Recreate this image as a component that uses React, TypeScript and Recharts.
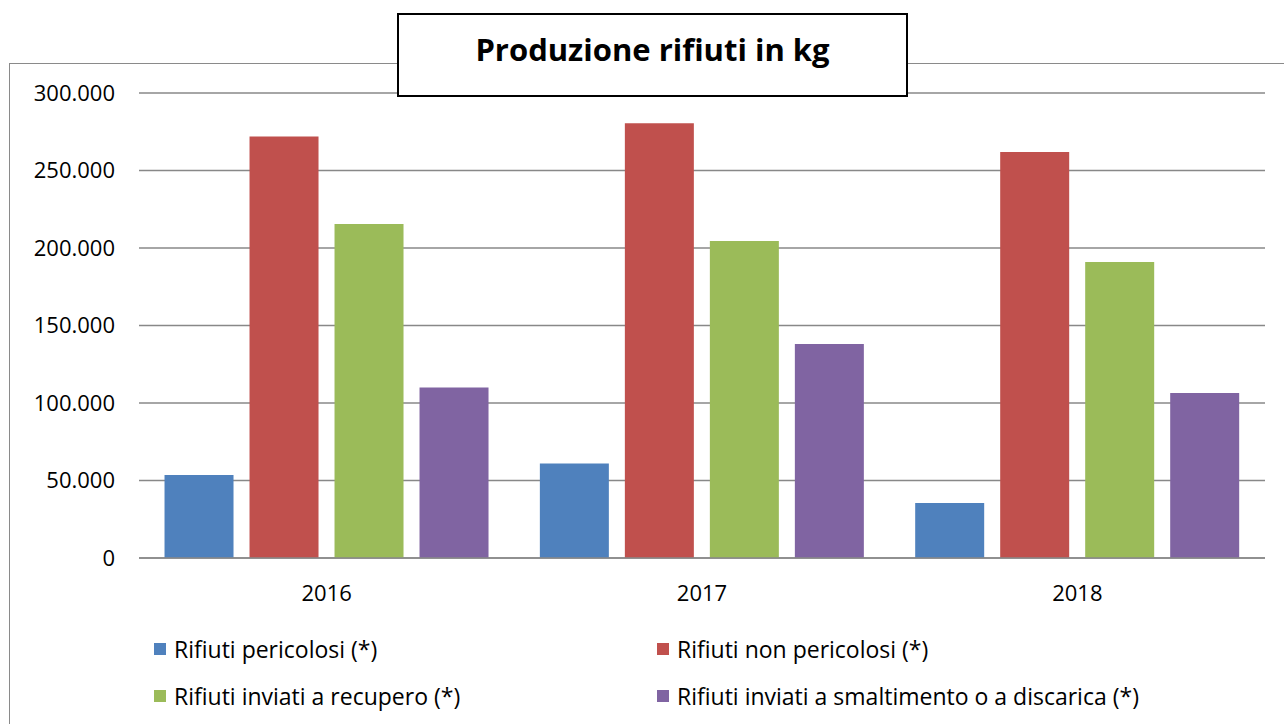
import React from "react";
import { BarChart, Bar, XAxis, YAxis, CartesianGrid } from "recharts";

const years = ["2016", "2017", "2018"];
const pericolosi = [53500, 61000, 35500];
const nonPericolosi = [272000, 280500, 262000];
const recupero = [215500, 204500, 191000];
const smaltimento = [110000, 138000, 106500];
const yTicks = [0, 50000, 100000, 150000, 200000, 250000, 300000];

const series = [
  { key: "pericolosi", name: "Rifiuti pericolosi (*)", color: "#4F81BD" },
  { key: "nonPericolosi", name: "Rifiuti non pericolosi (*)", color: "#C0504D" },
  { key: "recupero", name: "Rifiuti inviati a recupero (*)", color: "#9BBB59" },
  { key: "smaltimento", name: "Rifiuti inviati a smaltimento o a discarica (*)", color: "#8064A2" },
];

const data = years.map((year, i) => ({
  year,
  pericolosi: pericolosi[i],
  nonPericolosi: nonPericolosi[i],
  recupero: recupero[i],
  smaltimento: smaltimento[i],
}));

const font = "'Open Sans', sans-serif";

// thousands with dots, italian style
const fmt = (v: number) => String(v).replace(/\B(?=(\d{3})+(?!\d))/g, ".");

export default function App() {
  return (
    <div style={{ position: "absolute", left: 0, top: 0, width: 1284, height: 724, overflow: "hidden", background: "#fff", fontFamily: font }}>
      <div style={{ position: "absolute", left: 9, top: 63, width: 1400, height: 800, border: "1.5px solid #8a8a8a" }} />
      <div style={{ position: "absolute", left: 0, top: 0 }}>
        <BarChart
          width={1284}
          height={724}
          data={data}
          margin={{ top: 93, right: 19, bottom: 136, left: 0 }}
          barCategoryGap="6.8%"
          barGap={16}
        >
          <CartesianGrid vertical={false} stroke="#888" strokeWidth={1.5} />
          <XAxis
            dataKey="year"
            axisLine={{ stroke: "#888", strokeWidth: 1.5 }}
            tickLine={false}
            tickMargin={21}
            height={30}
            tick={{ fontSize: 22, fill: "#000", fontFamily: font }}
          />
          <YAxis
            domain={[0, 300000]}
            ticks={yTicks}
            width={139}
            axisLine={false}
            tickLine={false}
            tickMargin={18}
            tickFormatter={fmt}
            tick={{ fontSize: 22, fill: "#000", fontFamily: font }}
          />
          {series.map((s) => (
            <Bar key={s.key} dataKey={s.key} name={s.name} fill={s.color} isAnimationActive={false} />
          ))}
        </BarChart>
      </div>
      <div
        style={{
          position: "absolute",
          left: 397,
          top: 13,
          width: 507,
          height: 80,
          border: "2px solid #000",
          background: "#fff",
          display: "flex",
          alignItems: "center",
          justifyContent: "center",
          boxSizing: "content-box",
          fontWeight: 700,
          fontSize: 31,
        }}
      >
        <span style={{ position: "relative", top: -6 }}>Produzione rifiuti in kg</span>
      </div>
      {series.map((s, i) => (
        <div
          key={s.key}
          style={{
            position: "absolute",
            left: i % 2 === 0 ? 154 : 657,
            top: i < 2 ? 649 - 16 : 696 - 16,
            height: 32,
            display: "flex",
            alignItems: "center",
            fontSize: 23,
            whiteSpace: "nowrap",
          }}
        >
          <span style={{ display: "inline-block", width: 12, height: 12, background: s.color, marginRight: 8 }} />
          {s.name}
        </div>
      ))}
    </div>
  );
}
